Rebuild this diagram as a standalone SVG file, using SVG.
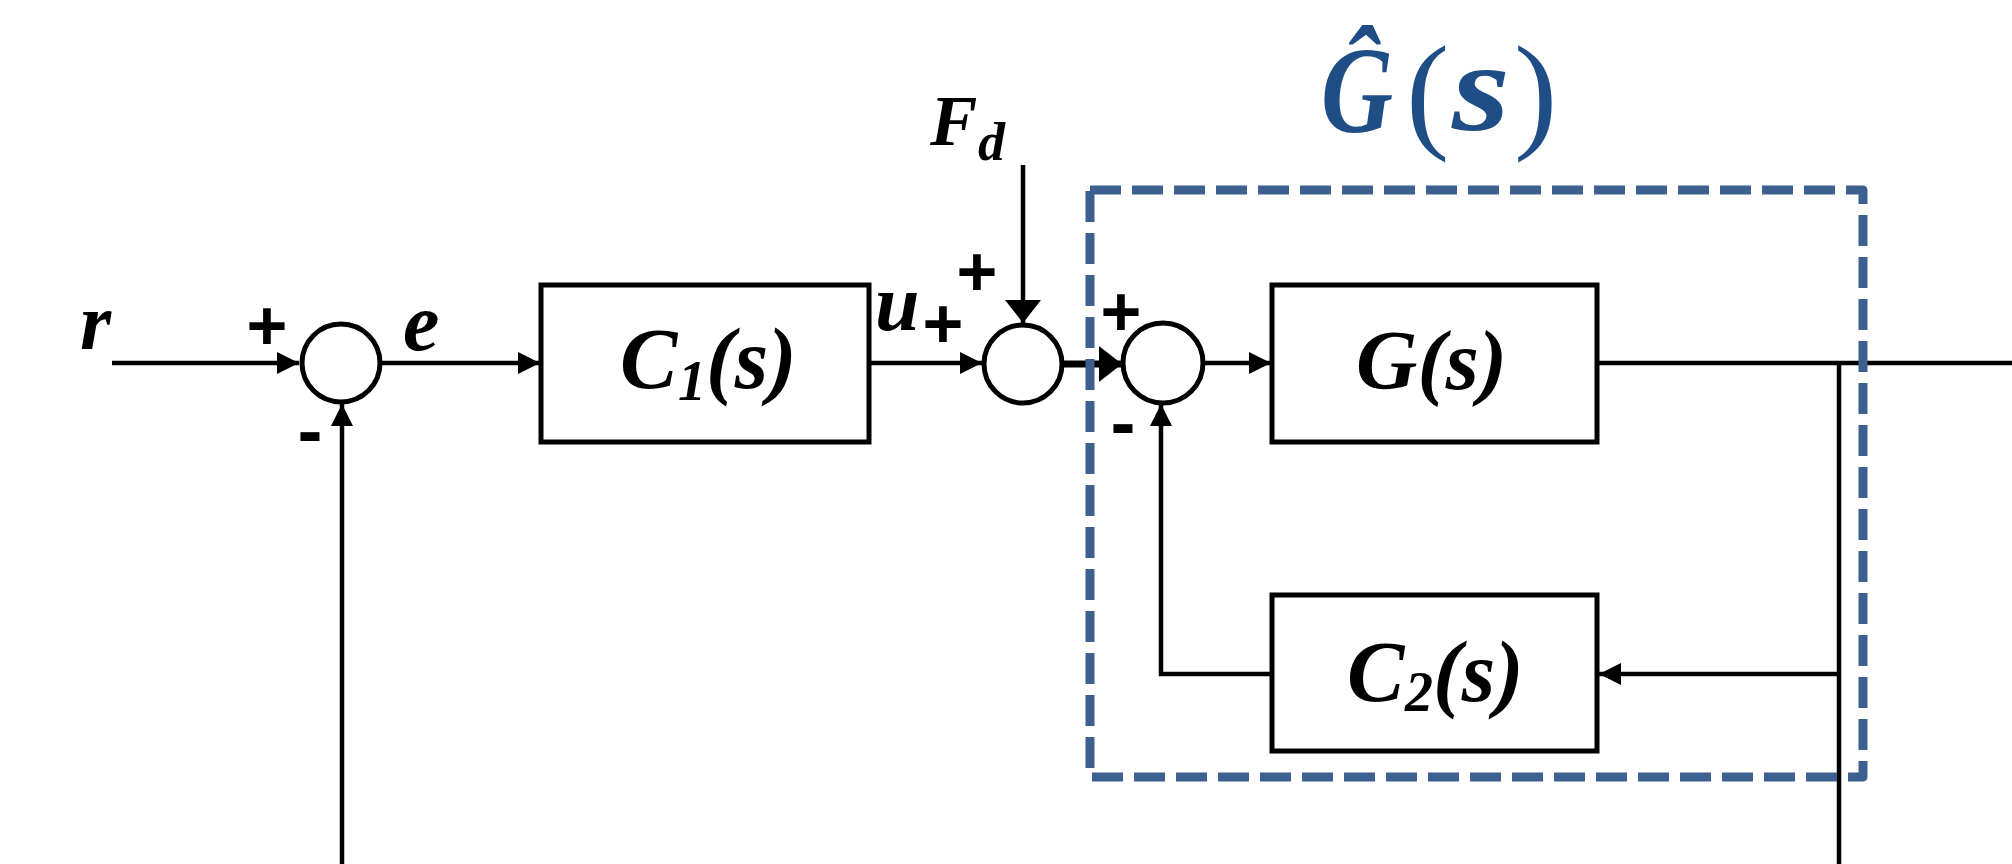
<svg xmlns="http://www.w3.org/2000/svg" width="2012" height="864" viewBox="0 0 2012 864">
<style>
.ln{fill:none;stroke:#000;stroke-width:4.5}
.box{fill:#fff;stroke:#000;stroke-width:5}
.sum{fill:#fff;stroke:#000;stroke-width:5}
.lbl{font-family:"Liberation Serif","Times New Roman",serif;font-weight:bold;font-style:italic;fill:#000}
.sgn{font-family:"Liberation Sans",Arial,sans-serif;font-weight:bold;fill:#000;text-anchor:middle}
.dash{fill:none;stroke:#3D6090;stroke-width:9;stroke-dasharray:31 11;stroke-linejoin:round}
.ttl{font-family:"Liberation Serif","Times New Roman",serif;fill:#1F4E87}
</style>
<defs>
<marker id="ah" markerUnits="userSpaceOnUse" markerWidth="24" markerHeight="22" refX="22" refY="11" orient="auto">
<path d="M0,0 L22,11 L0,22 Z" fill="#000"/>
</marker>
<marker id="ahL" markerUnits="userSpaceOnUse" markerWidth="26" markerHeight="36" refX="23" refY="18" orient="auto">
<path d="M0,0 L23,18 L0,36 Z" fill="#000"/>
</marker>
</defs>
<rect width="2012" height="864" fill="#fff"/>

<g id="connectors">
<line class="ln" x1="112" y1="363" x2="299" y2="363" marker-end="url(#ah)"/>
<line class="ln" x1="382" y1="363" x2="540" y2="363" marker-end="url(#ah)"/>
<line class="ln" x1="869" y1="363" x2="982" y2="363" marker-end="url(#ah)"/>
<line class="ln" x1="1023" y1="165" x2="1023" y2="323" marker-end="url(#ahL)"/>
<line class="ln" style="stroke-width:7" x1="1064" y1="364" x2="1122" y2="364" marker-end="url(#ahL)"/>
<line class="ln" x1="1204" y1="363" x2="1271" y2="363" marker-end="url(#ah)"/>
<line class="ln" x1="1597" y1="363" x2="2012" y2="363"/>
<line class="ln" x1="1839" y1="363" x2="1839" y2="864"/>
<line class="ln" x1="1839" y1="674" x2="1599" y2="674" marker-end="url(#ah)"/>
<polyline class="ln" points="1272,674 1161,674 1161,404" marker-end="url(#ah)"/>
<line class="ln" x1="342" y1="864" x2="342" y2="404" marker-end="url(#ah)"/>
</g>

<g id="ghat-boundary">
<rect class="dash" x="1090" y="190" width="773" height="587"/>
<text class="ttl" y="132"><tspan x="1321" font-size="122" font-weight="bold" font-style="italic" textLength="72" lengthAdjust="spacingAndGlyphs">Ĝ</tspan><tspan x="1406" y="135" font-size="130">(</tspan><tspan x="1452" y="130" font-size="126" font-weight="bold" font-style="italic" textLength="58" lengthAdjust="spacingAndGlyphs">s</tspan><tspan x="1514" y="135" font-size="130">)</tspan></text>
</g>

<g id="input-r">
<text class="lbl" x="80" y="349" font-size="80">r</text>
</g>

<g id="sum1">
<circle class="sum" cx="341" cy="363" r="39"/>
<text class="sgn" x="267" y="350" font-size="70">+</text>
<text class="sgn" x="310" y="456" font-size="75">-</text>
</g>

<g id="label-e">
<text class="lbl" x="403" y="350" font-size="82">e</text>
</g>

<g id="C1">
<rect class="box" x="541" y="285" width="328" height="157"/>
<text class="lbl" x="620" y="388" font-size="86">C<tspan x="678" y="400" font-size="56">1</tspan><tspan x="706" y="388">(s)</tspan></text>
</g>

<g id="label-u">
<text class="lbl" x="875" y="330" font-size="80">u</text>
<text class="sgn" x="943" y="348" font-size="70">+</text>
</g>

<g id="disturbance-Fd">
<text class="lbl" x="930" y="145" font-size="71">F<tspan font-size="54" x="978" y="160">d</tspan></text>
</g>

<g id="sum2">
<circle class="sum" cx="1023" cy="364" r="39"/>
<text class="sgn" x="977" y="296" font-size="70">+</text>
</g>

<g id="sum3">
<circle class="sum" cx="1163" cy="363" r="40"/>
<text class="sgn" x="1121" y="336" font-size="70">+</text>
<text class="sgn" x="1123" y="448" font-size="75">-</text>
</g>

<g id="G">
<rect class="box" x="1272" y="285" width="325" height="157"/>
<text class="lbl" x="1356" y="389" font-size="85">G(s)</text>
</g>

<g id="C2">
<rect class="box" x="1272" y="595" width="325" height="156"/>
<text class="lbl" x="1347" y="701" font-size="86">C<tspan x="1405" y="711" font-size="56">2</tspan><tspan x="1433" y="701">(s)</tspan></text>
</g>
</svg>
